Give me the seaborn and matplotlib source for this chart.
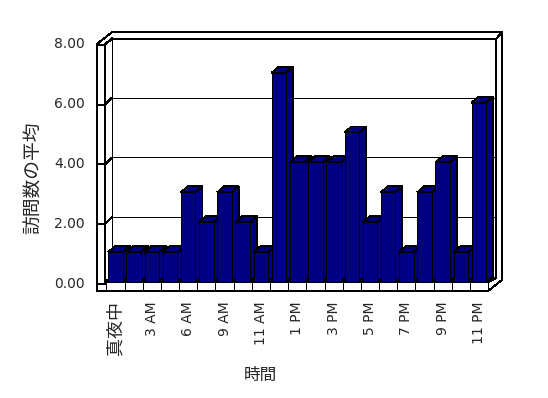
import matplotlib
matplotlib.use("Agg")
import matplotlib.pyplot as plt
import seaborn as sns
import pandas as pd
from matplotlib.patches import Polygon
from matplotlib.lines import Line2D
from matplotlib.transforms import IdentityTransform

# ---- data ----
hours = ["真夜中", "1 AM", "3 AM", "4 AM", "6 AM", "7 AM", "9 AM", "10 AM",
         "11 AM", "正午", "1 PM", "2 PM", "3 PM", "4 PM", "5 PM", "6 PM",
         "7 PM", "8 PM", "9 PM", "10 PM", "11 PM"]
visits = [1, 1, 1, 1, 3, 2, 3, 2, 1, 7, 4, 4, 4, 5, 2, 3, 1, 3, 4, 1, 6]
y_ticks = [0, 2, 4, 6, 8]
y_tick_labels = ["0.00", "2.00", "4.00", "6.00", "8.00"]
x_title = "時間"
y_title = "訪問数の平均"

NAVY = "#000080"
W, H = 548, 398
LW = 0.7

sns.set_style("white")
plt.rcParams["font.family"] = ["DejaVu Sans", "Noto Sans CJK JP"]

df = pd.DataFrame({"hour": hours, "visits": visits})

fig = plt.figure(figsize=(W / 100, H / 100), dpi=100)
fig.patch.set_facecolor("white")
ax = fig.add_axes([106.4 / W, (H - 282) / H, 381.8 / W, 239.2 / H])
ax.patch.set_visible(False)

sns.barplot(data=df, x="hour", y="visits", order=hours, color=NAVY,
            saturation=1, edgecolor="black", linewidth=LW, width=0.8,
            errorbar=None, ax=ax)

n = len(hours)
ax.set_xlim(-0.5, n - 0.5)
ax.set_ylim(y_ticks[0], y_ticks[-1])
ax.set_autoscale_on(False)
for s in ax.spines.values():
    s.set_visible(False)

# ticks
ax.set_xticks(range(n))
ax.set_xticklabels([h if i % 2 == 0 else "" for i, h in enumerate(hours)],
                   rotation=90, fontsize=10)
ax.get_xticklabels()[0].set_fontsize(13)
ax.set_yticks(y_ticks)
ax.set_yticklabels(y_tick_labels, fontsize=10)
ax.tick_params(axis="x", length=0, pad=13.7)
ax.tick_params(axis="y", length=0, pad=15.4)

ax.set_xlabel(x_title, fontsize=12, va="center")
ax.xaxis.set_label_coords((260 - 106.4) / 381.8, (282 - 375) / 239.2)
ax.set_ylabel(y_title, fontsize=13.5, va="center")
ax.yaxis.set_label_coords((33.5 - 106.4) / 381.8, (282 - 177.5) / 239.2)

ID = IdentityTransform()
xl, xr = -0.5, n - 0.5
ytop = y_ticks[-1]


def P(x, y, ox=0.0, oy=0.0):
    """data point shifted by pixel offsets (ox right, oy down)."""
    X, Y = ax.transData.transform((x, y))
    return (X + ox, Y - oy)


def line(pts, z=1, lw=LW):
    xs = [p[0] for p in pts]
    ys = [p[1] for p in pts]
    ax.add_line(Line2D(xs, ys, transform=ID, color="black", lw=lw,
                       zorder=z, clip_on=False, solid_capstyle="butt",
                       antialiased=False))


# ---- frame (walls & floor) ----
outer = [P(xl, ytop, -9.4, 1.2), P(xl, ytop, 5.3, -10.5), P(xr, ytop, 13.7, -10.5),
         P(xr, 0, 13.7, -2), P(xr, 0, 0, 9), P(xl, 0, -9.4, 9)]
ax.add_patch(Polygon(outer, closed=True, transform=ID, facecolor="white",
                     edgecolor="black", lw=LW, zorder=0.5, clip_on=False,
                     antialiased=False))
inner = [P(xl, ytop, -1.4, 1.2), P(xl, ytop, 5.6, -3.8), P(xr, ytop, 7.7, -3.8),
         P(xr, 0, 7.7, -4), P(xr, 0, 0, 0), P(xl, 0, -1.4, 0)]
line(inner + [inner[0]])
line([P(xr, ytop, 7.7, -3.8), P(xr, ytop, 13.7, -10.5)])
line([P(xl, ytop, 5.6, -3.8), P(xl, 0, 5.6, -5)])
line([P(xl, 0, 5.6, -5), P(xl, 0, -1.4, 0)])
line([P(xl, 0, 5.6, -5), P(xr, 0, 7.7, -5)])
line([P(xr, 0, 0, 0), P(xr, 0, 0, 9)])

# gridlines on back wall + left wall, tick marks on left slab
for v in y_ticks:
    if 0 < v < ytop:
        line([P(xl, v, 5.6, -5), P(xr, v, 7.7, -5)])
    line([P(xl, v, -9.4, 2), P(xl, v, -1.4, 2), P(xl, v, 5.6, -5)])

# floor slab category divisions
for k in range(n + 1):
    line([P(xl + k, 0, 0, 0), P(xl + k, 0, 0, 9)])

# ---- 3D bar faces derived from seaborn's bars ----
DX, DY = 7, 6
for i, p in enumerate(ax.patches[:n]):
    x0, w, h = p.get_x(), p.get_width(), p.get_height()
    p.set_zorder(10 + 2 * i + 1)
    p.set_antialiased(False)
    br = P(x0 + w, 0)
    tl = P(x0, h)
    tr = P(x0 + w, h)
    top = [tl, tr, (tr[0] + DX, tr[1] + DY), (tl[0] + DX, tl[1] + DY)]
    side = [br, tr, (tr[0] + DX, tr[1] + DY), (br[0] + DX, br[1] + DY)]
    for poly in (side, top):
        ax.add_patch(Polygon(poly, closed=True, transform=ID, facecolor=NAVY,
                             edgecolor="black", lw=LW, zorder=10 + 2 * i,
                             clip_on=False, antialiased=False))

fig.savefig("out.png", dpi=100, facecolor="white")
